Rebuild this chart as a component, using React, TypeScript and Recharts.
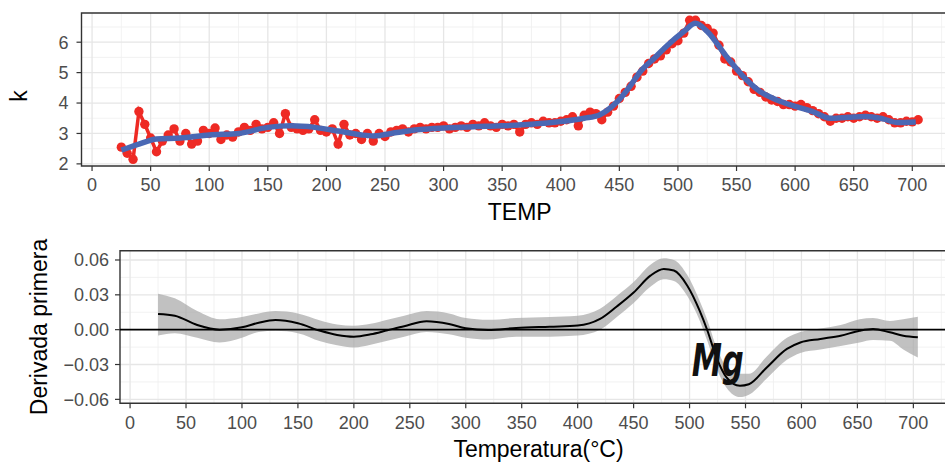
import React from 'react';
import {
  ComposedChart, Line, Area, XAxis, YAxis, CartesianGrid,
  ReferenceLine, ReferenceArea, ReferenceDot,
} from 'recharts';

// measured k (red points)
const kTemp = [
  25, 30, 35, 40, 45, 50, 55, 60, 65, 70, 75, 80, 85, 90, 95, 100,
  105, 110, 115, 120, 125, 130, 135, 140, 145, 150, 155, 160, 165, 170, 175, 180,
  185, 190, 195, 200, 205, 210, 215, 220, 225, 230, 235, 240, 245, 250, 255, 260,
  265, 270, 275, 280, 285, 290, 295, 300, 305, 310, 315, 320, 325, 330, 335, 340,
  345, 350, 355, 360, 365, 370, 375, 380, 385, 390, 395, 400, 405, 410, 415, 420,
  425, 430, 435, 440, 445, 450, 455, 460, 465, 470, 475, 480, 485, 490, 495, 500,
  505, 510, 515, 520, 525, 530, 535, 540, 545, 550, 555, 560, 565, 570, 575, 580,
  585, 590, 595, 600, 605, 610, 615, 620, 625, 630, 635, 640, 645, 650, 655, 660,
  665, 670, 675, 680, 685, 690, 695, 700, 705,
];
const kObs = [
  2.55, 2.35, 2.15, 3.72, 3.3, 2.85, 2.4, 2.75, 2.95, 3.15, 2.75, 3.0, 2.65, 2.75, 3.1, 3.0,
  3.18, 2.8, 2.95, 2.88, 3.05, 3.2, 3.1, 3.3, 3.15, 3.2, 3.35, 3.0, 3.65, 3.2, 3.15, 3.1,
  3.15, 3.45, 3.1, 3.05, 3.15, 2.65, 3.3, 2.95, 3.0, 2.8, 3.0, 2.75, 3.0, 2.9, 3.05, 3.1,
  3.15, 3.05, 3.15, 3.2, 3.15, 3.2, 3.2, 3.25, 3.15, 3.2, 3.25, 3.2, 3.3, 3.25, 3.35, 3.25,
  3.2, 3.3, 3.25, 3.3, 3.05, 3.3, 3.35, 3.3, 3.4, 3.35, 3.35, 3.4, 3.45, 3.55, 3.25, 3.6,
  3.7, 3.65, 3.45, 3.7, 3.9, 4.15, 4.35, 4.55, 4.85, 5.05, 5.3, 5.45, 5.55, 5.75, 5.95, 6.05,
  6.3, 6.72, 6.72, 6.55, 6.45, 6.3, 5.9, 5.45, 5.35, 5.05, 4.9, 4.7, 4.45, 4.35, 4.2, 4.1,
  4.05, 3.95, 3.95, 3.9, 3.95, 3.85, 3.75, 3.65, 3.55, 3.4, 3.5, 3.5, 3.55, 3.5, 3.55, 3.6,
  3.55, 3.5, 3.55, 3.45, 3.35, 3.35, 3.4, 3.38, 3.45,
];

// smoothed fit (blue)
const fitTemp = [25, 40, 55, 75, 100, 125, 150, 170, 190, 210, 230, 240, 260, 280, 300, 325, 350, 375, 400, 420,
  433, 447, 460, 468, 480, 490, 505, 515, 525, 541, 558, 570, 581, 601, 615, 630, 645, 660, 675, 687, 703];
const fitK = [2.45, 2.65, 2.82, 2.85, 2.95, 3.0, 3.2, 3.25, 3.2, 3.08, 2.95, 2.92, 3.03, 3.13, 3.18, 3.22, 3.25, 3.3, 3.39, 3.5,
  3.61, 4.0, 4.6, 5.04, 5.48, 5.86, 6.35, 6.62, 6.35, 5.55, 4.78, 4.38, 4.16, 3.88, 3.72, 3.5, 3.53, 3.56, 3.48, 3.36, 3.38];

// first derivative with band
const dTemp = [25, 40, 60, 80, 100, 115, 130, 150, 170, 185, 200, 215, 230, 245, 265, 285, 300, 320, 345, 375, 400, 420,
  435, 450, 465, 477, 486, 498, 509, 516, 524, 533, 545, 553, 569, 587, 599, 617, 635, 652, 664, 679, 691, 704];
const dVal = [0.0135, 0.012, 0.004, 0.0, 0.002, 0.006, 0.0083, 0.0055, -0.001, -0.0045, -0.006, -0.004, -0.0005, 0.003,
  0.0072, 0.0049, 0.0012, -0.0003, 0.0015, 0.0026, 0.0035, 0.0092, 0.02, 0.032, 0.0465, 0.0523, 0.0509, 0.0379, 0.0164,
  -0.0009, -0.0239, -0.0411, -0.0483, -0.047, -0.0325, -0.0166, -0.011, -0.008, -0.0052, -0.0009, 0.0006, -0.0023, -0.0052, -0.0066];
const dLo = [-0.005, -0.003, -0.007, -0.011, -0.007, -0.002, -0.001, -0.003, -0.01, -0.0135, -0.0153, -0.013, -0.0095, -0.006,
  -0.002, -0.004, -0.007, -0.0085, -0.006, -0.006, -0.005, 0.0, 0.011, 0.023, 0.037, 0.0435, 0.042, 0.029, 0.008,
  -0.01, -0.033, -0.05, -0.058, -0.056, -0.042, -0.026, -0.02, -0.017, -0.014, -0.011, -0.009, -0.0095, -0.017, -0.024];
const dHi = [0.031, 0.027, 0.016, 0.009, 0.011, 0.014, 0.016, 0.014, 0.008, 0.0045, 0.0034, 0.005, 0.0085, 0.012,
  0.016, 0.014, 0.01, 0.0085, 0.01, 0.011, 0.012, 0.018, 0.029, 0.041, 0.056, 0.0615, 0.06, 0.047, 0.025,
  0.008, -0.015, -0.032, -0.038, -0.038, -0.023, -0.007, -0.002, 0.001, 0.004, 0.009, 0.01, 0.0075, 0.009, 0.0112];

const xTicks = [0, 50, 100, 150, 200, 250, 300, 350, 400, 450, 500, 550, 600, 650, 700];
const xMinor = [25, 75, 125, 175, 225, 275, 325, 375, 425, 475, 525, 575, 625, 675, 725];
const kTicks = [2, 3, 4, 5, 6];
const kMinor = [2.5, 3.5, 4.5, 5.5, 6.5];
const dTicks = [-0.06, -0.03, 0, 0.03, 0.06];
const dMinor = [-0.045, -0.015, 0.015, 0.045];

const obsData = kTemp.map((t, i) => ({ t, k: kObs[i] }));
const fitData = fitTemp.map((t, i) => ({ t, k: fitK[i] }));
const derivData = dTemp.map((t, i) => ({ t, v: dVal[i], band: [dLo[i], dHi[i]] }));

const FONT = "'Liberation Sans', Arial, Helvetica, sans-serif";
const tickStyle = { fill: '#4d4d4d', fontSize: 18, fontFamily: FONT };
const titleStyle = { fill: '#000', fontSize: 23, fontFamily: FONT };

const fmtDeriv = (v: number) => {
  if (Math.abs(v) < 1e-9) return '0.00';
  return (v < 0 ? '\u2212' : '') + Math.abs(v).toFixed(2);
};

const App: React.FC = () => {
  return (
    <div style={{ position: 'absolute', left: 0, top: 0, width: 945, height: 462, overflow: 'hidden', background: '#fff' }}>
      {/* upper panel: k vs TEMP */}
      <div style={{ position: 'absolute', left: 0, top: 0 }}>
        <ComposedChart width={960} height={230} data={obsData} margin={{ top: 13, right: 2, bottom: 0, left: 0 }}>
          <CartesianGrid stroke="#efefef" strokeWidth={0.8} verticalValues={xMinor} horizontalValues={kMinor} />
          <CartesianGrid stroke="#e6e6e6" strokeWidth={1.3} verticalValues={xTicks} horizontalValues={kTicks} />
          <XAxis
            dataKey="t" type="number" domain={[-9, 739]} allowDataOverflow ticks={xTicks} interval={0}
            height={64} axisLine={false} tickSize={5} tickMargin={7}
            tickLine={{ stroke: '#333', strokeWidth: 1.2 }} tick={tickStyle}
            label={({ viewBox }: any) => (
              <text x={viewBox.x + viewBox.width / 2} y={220} textAnchor="middle" style={titleStyle}>TEMP</text>
            )}
          />
          <YAxis
            type="number" domain={[1.93, 6.96]} allowDataOverflow ticks={kTicks} interval={0}
            width={81.5} axisLine={false} tickSize={5} tickMargin={8}
            tickLine={{ stroke: '#333', strokeWidth: 1.2 }} tick={tickStyle}
            label={() => (
              <text x={26.5} y={96} transform="rotate(-90 26.5 96)" textAnchor="middle" style={titleStyle}>k</text>
            )}
          />
          <Line dataKey="k" type="linear" stroke="#ee2a24" strokeWidth={3.5}
            dot={{ r: 4.7, fill: '#ee2a24', stroke: 'none' }} isAnimationActive={false} />
          <Line data={fitData} dataKey="k" type="monotone" stroke="#4a68b4" strokeWidth={5.5}
            dot={false} isAnimationActive={false} zIndex={900} />
          <ReferenceArea x1={-9} x2={739} y1={1.93} y2={6.96} fill="none" stroke="#333" strokeWidth={1.4} />
        </ComposedChart>
      </div>

      {/* lower panel: first derivative */}
      <div style={{ position: 'absolute', left: 0, top: 230 }}>
        <ComposedChart width={960} height={232} data={derivData} margin={{ top: 20.7, right: 3, bottom: 0, left: 0 }}>
          <CartesianGrid stroke="#efefef" strokeWidth={0.8} verticalValues={xMinor} horizontalValues={dMinor} />
          <CartesianGrid stroke="#e6e6e6" strokeWidth={1.3} verticalValues={xTicks} horizontalValues={dTicks} />
          <XAxis
            dataKey="t" type="number" domain={[-9, 739]} allowDataOverflow ticks={xTicks} interval={0}
            height={58.7} axisLine={false} tickSize={5} tickMargin={8}
            tickLine={{ stroke: '#333', strokeWidth: 1.2 }} tick={tickStyle}
            label={({ viewBox }: any) => (
              <text x={viewBox.x + viewBox.width / 2} y={227} textAnchor="middle" style={titleStyle}>Temperatura(°C)</text>
            )}
          />
          <YAxis
            type="number" domain={[-0.0634, 0.068]} allowDataOverflow ticks={dTicks} interval={0}
            width={120} axisLine={false} tickSize={5} tickMargin={6} tickFormatter={fmtDeriv}
            tickLine={{ stroke: '#333', strokeWidth: 1.2 }} tick={tickStyle}
            label={() => (
              <text x={46.5} y={97} transform="rotate(-90 46.5 97)" textAnchor="middle" style={titleStyle}>Derivada primera</text>
            )}
          />
          <Area dataKey="band" type="monotone" stroke="none" fill="#a6a6a6" fillOpacity={0.7} isAnimationActive={false} />
          <ReferenceLine y={0} stroke="#000" strokeWidth={1.8} />
          <Line dataKey="v" type="monotone" stroke="#000" strokeWidth={2} dot={false} isAnimationActive={false} />
          <ReferenceDot
            x={502} y={-0.0397} r={0} fill="none" stroke="none"
            label={({ viewBox }: any) => (
              <text x={viewBox.x} y={viewBox.y} textLength={52} lengthAdjust="spacingAndGlyphs"
                style={{ fill: '#111', fontSize: 44, fontWeight: 700, fontStyle: 'italic', fontFamily: "'Liberation Sans Narrow', 'DejaVu Sans Condensed', sans-serif" }}>Mg</text>
            )}
          />
          <ReferenceArea x1={-9} x2={739} y1={-0.0634} y2={0.068} fill="none" stroke="#333" strokeWidth={1.4} />
        </ComposedChart>
      </div>
    </div>
  );
};

export default App;
